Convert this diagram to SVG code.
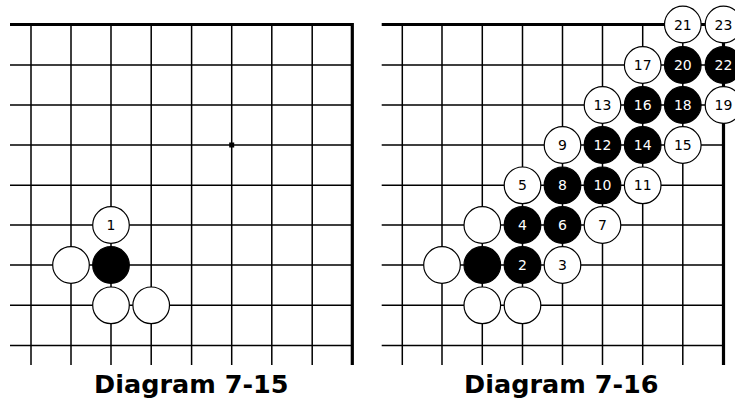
<svg xmlns="http://www.w3.org/2000/svg" width="735" height="400" viewBox="0 0 735 400">
<style>
.g{stroke:#000;stroke-width:1.5;fill:none}
.e{stroke:#000;stroke-width:3.2;fill:none}
.w{fill:#fff;stroke:#000;stroke-width:1.2}
.b{fill:#000;stroke:#000;stroke-width:1.2}
.n{font-family:"DejaVu Sans","Liberation Sans",sans-serif;font-size:14px;text-anchor:middle}
.nw{fill:#000}
.nb{fill:#fff}
.cap{font-family:"DejaVu Sans","Liberation Sans",sans-serif;font-weight:bold;font-size:25.5px;text-anchor:middle;fill:#000}
</style>
<rect width="735" height="400" fill="#fff"/>
<g id="board-left">
<path class="g" d="M10 65H352.3M10 105H352.3M10 145H352.3M10 185.3H352.3M10 225H352.3M10 265H352.3M10 305.3H352.3M10 345.5H352.3"/>
<path class="g" d="M31 24.5V365M71 24.5V365M111 24.5V365M151.2 24.5V365M191.6 24.5V365M231.7 24.5V365M271.8 24.5V365M312.2 24.5V365"/>
<path class="e" d="M10 24.5H353.9M352.3 23V365"/>
<rect x="229.2" y="142.5" width="5" height="5" fill="#000"/>
</g>
<g id="board-right">
<path class="g" d="M381.7 65H723.5M381.7 105H723.5M381.7 145H723.5M381.7 185.3H723.5M381.7 225H723.5M381.7 265H723.5M381.7 305.3H723.5M381.7 345.5H723.5"/>
<path class="g" d="M402.3 24.5V365M442 24.5V365M482.3 24.5V365M522.5 24.5V365M562.5 24.5V365M602.5 24.5V365M642.7 24.5V365M682.8 24.5V365"/>
<path class="e" d="M381.7 24.5H725.1M723.5 23V365"/>
</g>
<g id="connectors"></g>
<g id="L1"><circle class="w" cx="111" cy="225" r="18.3"/><text class="n nw" x="111" y="230">1</text></g>
<g id="Lb1"><circle class="b" cx="111" cy="265" r="18.3"/></g>
<g id="Lw1"><circle class="w" cx="71" cy="265" r="18.3"/></g>
<g id="Lw2"><circle class="w" cx="111" cy="305.3" r="18.3"/></g>
<g id="Lw3"><circle class="w" cx="151.2" cy="305.3" r="18.3"/></g>
<g id="R21"><circle class="w" cx="682.8" cy="24.5" r="18.3"/><text class="n nw" x="682.8" y="29.5">21</text></g>
<g id="R23"><circle class="w" cx="723.5" cy="24.5" r="18.3"/><text class="n nw" x="723.5" y="29.5">23</text></g>
<g id="R17"><circle class="w" cx="642.7" cy="65" r="18.3"/><text class="n nw" x="642.7" y="70">17</text></g>
<g id="R20"><circle class="b" cx="682.8" cy="65" r="18.3"/><text class="n nb" x="682.8" y="70">20</text></g>
<g id="R22"><circle class="b" cx="723.5" cy="65" r="18.3"/><text class="n nb" x="723.5" y="70">22</text></g>
<g id="R13"><circle class="w" cx="602.5" cy="105" r="18.3"/><text class="n nw" x="602.5" y="110">13</text></g>
<g id="R16"><circle class="b" cx="642.7" cy="105" r="18.3"/><text class="n nb" x="642.7" y="110">16</text></g>
<g id="R18"><circle class="b" cx="682.8" cy="105" r="18.3"/><text class="n nb" x="682.8" y="110">18</text></g>
<g id="R19"><circle class="w" cx="723.5" cy="105" r="18.3"/><text class="n nw" x="723.5" y="110">19</text></g>
<g id="R9"><circle class="w" cx="562.5" cy="145" r="18.3"/><text class="n nw" x="562.5" y="150">9</text></g>
<g id="R12"><circle class="b" cx="602.5" cy="145" r="18.3"/><text class="n nb" x="602.5" y="150">12</text></g>
<g id="R14"><circle class="b" cx="642.7" cy="145" r="18.3"/><text class="n nb" x="642.7" y="150">14</text></g>
<g id="R15"><circle class="w" cx="682.8" cy="145" r="18.3"/><text class="n nw" x="682.8" y="150">15</text></g>
<g id="R5"><circle class="w" cx="522.5" cy="185.3" r="18.3"/><text class="n nw" x="522.5" y="190.3">5</text></g>
<g id="R8"><circle class="b" cx="562.5" cy="185.3" r="18.3"/><text class="n nb" x="562.5" y="190.3">8</text></g>
<g id="R10"><circle class="b" cx="602.5" cy="185.3" r="18.3"/><text class="n nb" x="602.5" y="190.3">10</text></g>
<g id="R11"><circle class="w" cx="642.7" cy="185.3" r="18.3"/><text class="n nw" x="642.7" y="190.3">11</text></g>
<g id="Rw1"><circle class="w" cx="482.3" cy="225" r="18.3"/></g>
<g id="R4"><circle class="b" cx="522.5" cy="225" r="18.3"/><text class="n nb" x="522.5" y="230">4</text></g>
<g id="R6"><circle class="b" cx="562.5" cy="225" r="18.3"/><text class="n nb" x="562.5" y="230">6</text></g>
<g id="R7"><circle class="w" cx="602.5" cy="225" r="18.3"/><text class="n nw" x="602.5" y="230">7</text></g>
<g id="Rw2"><circle class="w" cx="442" cy="265" r="18.3"/></g>
<g id="Rb1"><circle class="b" cx="482.3" cy="265" r="18.3"/></g>
<g id="R2"><circle class="b" cx="522.5" cy="265" r="18.3"/><text class="n nb" x="522.5" y="270">2</text></g>
<g id="R3"><circle class="w" cx="562.5" cy="265" r="18.3"/><text class="n nw" x="562.5" y="270">3</text></g>
<g id="Rw3"><circle class="w" cx="482.3" cy="305.3" r="18.3"/></g>
<g id="Rw4"><circle class="w" cx="522.5" cy="305.3" r="18.3"/></g>
<g id="caption-left"><text class="cap" x="191.3" y="393.3">Diagram 7-15</text></g>
<g id="caption-right"><text class="cap" x="561.3" y="393.3">Diagram 7-16</text></g>
</svg>
